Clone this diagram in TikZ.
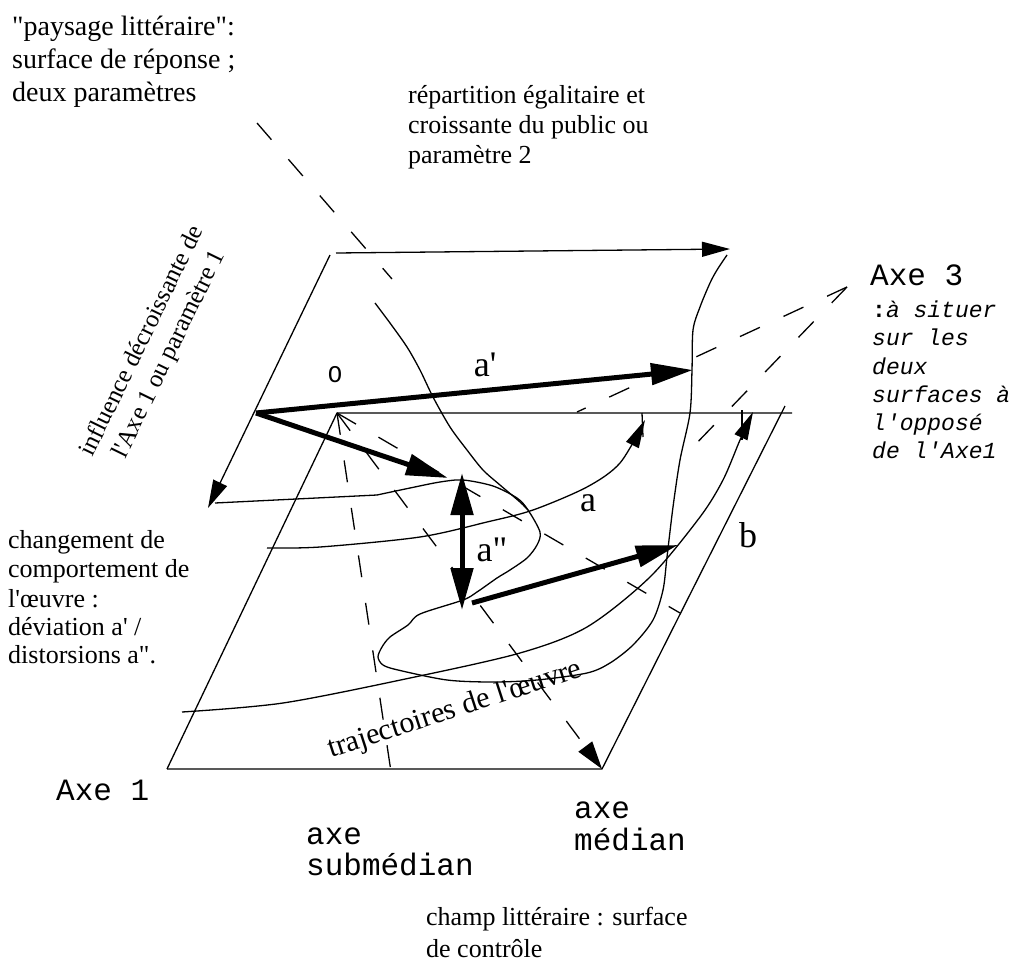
\documentclass[tikz,border=0pt]{standalone}
\usepackage{fontspec}
\setmainfont{Liberation Serif}[Ligatures=TeXOff]
\setmonofont{Liberation Mono}[Ligatures=TeXOff]
\usetikzlibrary{arrows.meta}
\begin{document}
\begin{tikzpicture}[x=1bp,y=-1bp,
  every node/.style={inner sep=0pt},
  edge/.style={line width=1.3bp},
  dline/.style={line width=1.3bp, dash pattern=on 22bp off 26bp},
  thinhead/.style={-{Triangle[length=28bp,width=15bp]}},
  boldarrow/.style={line width=5bp, -{Triangle[length=42bp,width=21bp]}},
  serifA/.style={font=\fontsize{28bp}{33bp}\selectfont, anchor=base west},
  serifB/.style={font=\fontsize{26bp}{30bp}\selectfont, anchor=base west},
  monoA/.style={font=\fontsize{31bp}{32bp}\selectfont\ttfamily, anchor=base west},
  monoI/.style={font=\fontsize{23bp}{28bp}\selectfont\ttfamily\itshape, anchor=base west},
  lbl/.style={font=\fontsize{36bp}{40bp}\selectfont},
]
\useasboundingbox (0,0) rectangle (1013,972);

% key points
\coordinate (P) at (256,413);
\coordinate (O) at (337,413);
\coordinate (BL) at (167,769);
\coordinate (BR) at (602,769);
\coordinate (TR) at (785,406);
\coordinate (HR) at (792,413);
\coordinate (UTL) at (336,253);
\coordinate (UTLb) at (330,255);
\coordinate (UTR) at (730,249);
\coordinate (ULB) at (208,508);
\coordinate (A3) at (847,287);

% dashed lines
\draw[dline] (257,123) -- (392,279);
\draw[dline] (O) -- (393,785);
\draw[dline, -{Triangle[length=28bp,width=17bp]}] (O) -- (BR);
\draw[dline] (O) -- (680,613);
\draw[dline] (A3) -- (577,412);
\draw[dline] (A3) -- (690,450);

% lower plane (control surface)
\draw[edge] (BL) -- (BR) -- (TR);
\draw[edge] (BL) -- (O) -- (HR);

% upper plane edges
\draw[edge, thinhead] (UTL) -- (UTR);
\draw[edge, thinhead] (UTLb) -- (ULB);

% fold of the response surface
\draw[edge] (215,503) -- (377,495);
\draw[edge] plot[smooth] coordinates {(377,495) (410,488) (440,482) (463,480) (493,486) (517,498) (528,510) (540,532) (537,545) (527,558) (510,570) (497,578) (477,592) (463,600) (420,614) (408,625) (390,637) (382,647) (378,657) (383,665) (398,670) (447,680) (493,682) (537,680) (587,673) (610,663) (633,645) (653,620) (663,590) (667,557) (673,507) (680,460) (690,413) (692,370) (693,330) (700,307) (710,283) (717,270) (727,255)};
\draw[edge] plot[smooth] coordinates {(375,303) (390,323) (407,347) (420,370) (433,397) (450,427) (467,450) (483,470) (500,485) (520,502) (528,510)};

% trajectories
\draw[edge, -{Triangle[length=28bp,width=14bp]}] plot[smooth] coordinates {(267,548) (320,547) (420,537) (487,522) (533,510) (587,487) (620,463) (645,420)};
\draw[edge, -{Triangle[length=28bp,width=14bp]}] plot[smooth] coordinates {(182,712) (283,703) (410,678) (520,653) (587,627) (650,577) (700,517) (723,480) (740,440) (753,412)};
\draw[edge] (642,413) -- (643,437);
\draw[edge] (742,410) -- (742,440);

% bold arrows
\draw[boldarrow] (P) -- (693,370);
\draw[boldarrow] (P) -- (448,478);
\draw[line width=5bp, {Triangle[length=42bp,width=22bp]}-{Triangle[length=42bp,width=22bp]}] (462,473) -- (462,610);
\draw[boldarrow] (472,603) -- (678,545);

% labels
\node[lbl] (la1) at (485,365) {a'};
\node[lbl] (la) at (588,503) {a};
\node[lbl] (la2) at (492,550) {a"};
\node[lbl] (lb) at (748,535) {b};
\node[font=\fontsize{24bp}{24bp}\selectfont\ttfamily] (lO) at (335,375) {O};

\node[font=\fontsize{25bp}{30bp}\selectfont, rotate=64, align=center] (infl) at (156,348) {influence décroissante de\\l'Axe 1 ou paramètre 1};
\node[font=\fontsize{30bp}{30bp}\selectfont, rotate=18, anchor=base west] (traj) at (331,758) {trajectoires de l'œuvre};

\node[serifA] (p1) at (12,35) {"paysage littéraire":};
\node[serifA] (p2) at (12,68) {surface de réponse ;};
\node[serifA] (p3) at (12,101) {deux paramètres};

\node[serifB] (r1) at (408,103) {répartition égalitaire et};
\node[serifB] (r2) at (408,133) {croissante du public ou};
\node[serifB] (r3) at (408,163) {paramètre 2};

\node[serifB] (c1) at (8,548) {changement de};
\node[serifB] (c2) at (8,577) {comportement de};
\node[serifB] (c3) at (8,607) {l'œuvre :};
\node[serifB] (c4) at (8,635) {déviation a' /};
\node[serifB] (c5) at (8,663) {distorsions a".};

\node[monoA] (x3) at (870,285) {Axe 3};
\node[monoI] (x3a) at (872,317) {\upshape\bfseries:\mdseries\itshape à situer};
\node[monoI] (x3b) at (872,345) {sur les};
\node[monoI] (x3c) at (872,374) {deux};
\node[monoI] (x3d) at (872,402) {surfaces à};
\node[monoI] (x3e) at (872,430) {l'opposé};
\node[monoI] (x3f) at (872,458) {de l'Axe1};

\node[monoA] (x1) at (56,800) {Axe 1};
\node[monoA] (xs1) at (306,844) {axe};
\node[monoA] (xs2) at (306,875) {submédian};
\node[monoA] (xm1) at (574,818) {axe};
\node[monoA] (xm2) at (574,850) {médian};

\node[serifB] (ch1) at (426,925) {champ littéraire : surface};
\node[serifB] (ch2) at (426,957) {de contrôle};
\end{tikzpicture}
\end{document}
